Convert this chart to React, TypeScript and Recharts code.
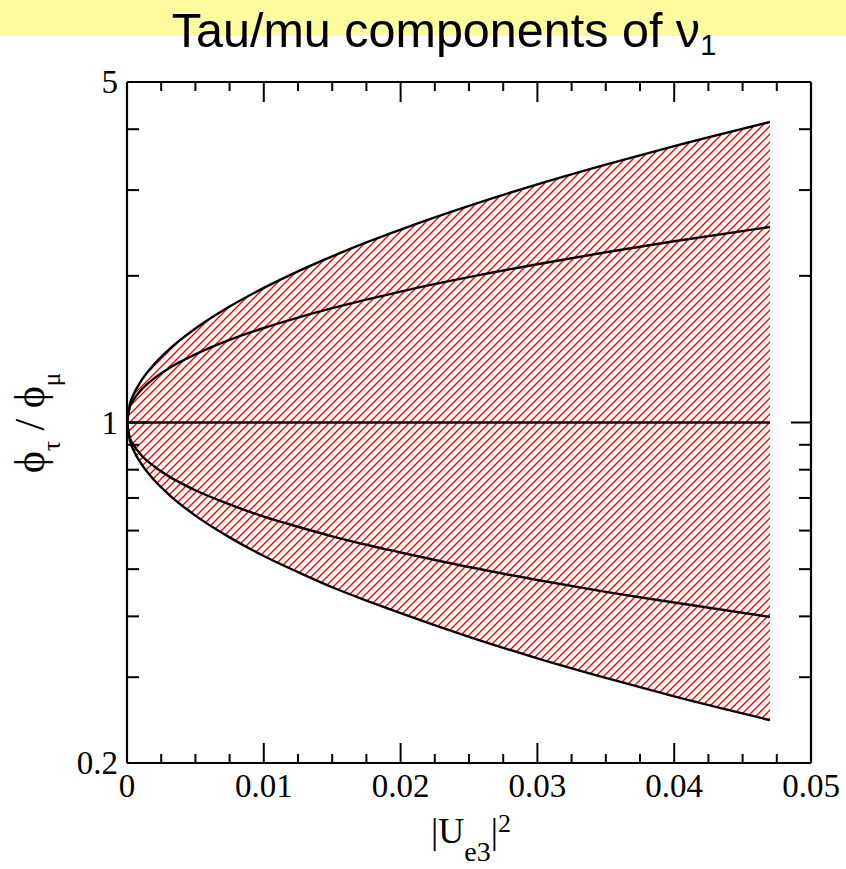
import { ComposedChart, Area, Line, XAxis, YAxis } from 'recharts';

// |Ue3|^2 sample points
const ue3 = [0, 0.0002, 0.0005, 0.001, 0.002, 0.003, 0.005, 0.0075, 0.01, 0.0125, 0.015, 0.0175, 0.02, 0.025, 0.03, 0.035, 0.04, 0.047];

// phi_tau / phi_mu
const outerUpper = [1, 1.087, 1.144, 1.213, 1.318, 1.406, 1.559, 1.73, 1.889, 2.043, 2.193, 2.342, 2.489, 2.784, 3.082, 3.383, 3.694, 4.14];
const innerUpper = [1, 1.074, 1.115, 1.163, 1.233, 1.289, 1.38, 1.477, 1.563, 1.642, 1.717, 1.787, 1.857, 1.988, 2.113, 2.236, 2.356, 2.52];
const central = [1, 1, 1, 1, 1, 1, 1, 1, 1, 1, 1, 1, 1, 1, 1, 1, 1, 1];
const innerLower = [1, 0.932, 0.897, 0.86, 0.812, 0.777, 0.726, 0.679, 0.641, 0.611, 0.584, 0.561, 0.541, 0.505, 0.475, 0.449, 0.427, 0.399];
const outerLower = [1, 0.921, 0.875, 0.826, 0.761, 0.714, 0.644, 0.581, 0.532, 0.493, 0.459, 0.431, 0.406, 0.363, 0.328, 0.299, 0.274, 0.245];

const xMajor = [0, 0.01, 0.02, 0.03, 0.04, 0.05];
const xMinor = [0.0025, 0.005, 0.0075, 0.0125, 0.015, 0.0175, 0.0225, 0.025, 0.0275, 0.0325, 0.035, 0.0375, 0.0425, 0.045, 0.0475];
const yMajor = [0.2, 1, 5];
const yMinor = [0.3, 0.4, 0.5, 0.6, 0.7, 0.8, 0.9, 2, 3, 4];

const xTicks = [...xMajor, ...xMinor].sort((a, b) => a - b);
const yTicks = [...yMajor, ...yMinor].sort((a, b) => a - b);

const data = ue3.map((u, i) => ({
  u,
  band: [outerLower[i], outerUpper[i]],
  outerUpper: outerUpper[i],
  innerUpper: innerUpper[i],
  central: central[i],
  innerLower: innerLower[i],
  outerLower: outerLower[i],
}));

const serif = '"Liberation Serif", "Times New Roman", serif';
const axisStroke = { stroke: '#000', strokeWidth: 2.2 };

// tick marks point into the plot; only majors get numbers
function Tick(props: any) {
  const { x, y, payload, side } = props;
  const v = payload.value;
  const horiz = side === 'bottom' || side === 'top';
  const major = horiz ? xMajor.includes(v) : yMajor.includes(v);
  const len = major ? 20 : horiz ? 9 : 12;
  let line;
  if (side === 'bottom') line = <line x1={x} x2={x} y1={y} y2={y - len} stroke="#000" strokeWidth={2} />;
  else if (side === 'top') line = <line x1={x} x2={x} y1={y} y2={y + len} stroke="#000" strokeWidth={2} />;
  else if (side === 'left') line = <line x1={x} x2={x + len} y1={y} y2={y} stroke="#000" strokeWidth={2} />;
  else line = <line x1={x} x2={x - len} y1={y} y2={y} stroke="#000" strokeWidth={2} />;
  let label = null;
  if (major && side === 'bottom') {
    label = <text x={x} y={y + 34} textAnchor="middle" fontFamily={serif} fontSize={33} fill="#000">{String(v)}</text>;
  } else if (major && side === 'left') {
    label = <text x={x - 9} y={y + 11} textAnchor="end" fontFamily={serif} fontSize={33} fill="#000">{String(v)}</text>;
  }
  return <g>{line}{label}</g>;
}

export default function App() {
  return (
    <div style={{ position: 'relative', width: 846, height: 869, background: '#fff' }}>
      <style>{'body{margin:0}'}</style>
      <div style={{ position: 'absolute', left: 0, top: 0, width: 846, height: 36, background: '#fdfaa0' }} />
      <ComposedChart
        width={846}
        height={869}
        data={data}
        margin={{ top: 81, right: 34, bottom: 105, left: 126 }}
        style={{ position: 'absolute', left: 0, top: 0 }}
      >
        <defs>
          <pattern id="redHatch" patternUnits="userSpaceOnUse" width="8" height="8">
            <line x1="0" y1="8" x2="8" y2="0" stroke="rgb(255,0,0)" strokeWidth="1.3" />
            <line x1="-2" y1="2" x2="2" y2="-2" stroke="rgb(255,0,0)" strokeWidth="1.3" />
            <line x1="6" y1="10" x2="10" y2="6" stroke="rgb(255,0,0)" strokeWidth="1.3" />
          </pattern>
        </defs>
        <XAxis xAxisId="x" dataKey="u" type="number" domain={[0, 0.05]} ticks={xTicks} interval={0}
          height={1} tickSize={0} tickMargin={0} axisLine={axisStroke} tickLine={false}
          tick={(p: any) => <Tick {...p} side="bottom" />} allowDataOverflow />
        <XAxis xAxisId="xt" orientation="top" dataKey="u" type="number" domain={[0, 0.05]} ticks={xTicks} interval={0}
          height={1} tickSize={0} tickMargin={0} axisLine={axisStroke} tickLine={false}
          tick={(p: any) => <Tick {...p} side="top" />} allowDataOverflow />
        <YAxis yAxisId="y" type="number" scale="log" domain={[0.2, 5]} ticks={yTicks} interval={0}
          width={1} tickSize={0} tickMargin={0} axisLine={axisStroke} tickLine={false}
          tick={(p: any) => <Tick {...p} side="left" />} allowDataOverflow />
        <YAxis yAxisId="yr" orientation="right" type="number" scale="log" domain={[0.2, 5]} ticks={yTicks} interval={0}
          width={1} tickSize={0} tickMargin={0} axisLine={axisStroke} tickLine={false}
          tick={(p: any) => <Tick {...p} side="right" />} allowDataOverflow />
        <Area xAxisId="x" yAxisId="y" dataKey="band" type="monotone" fill="url(#redHatch)" fillOpacity={1}
          stroke="none" isAnimationActive={false} />
        {['outerUpper', 'innerUpper', 'central', 'innerLower', 'outerLower'].map((k) => (
          <Line key={k} xAxisId="x" yAxisId="y" dataKey={k} type="monotone" stroke="#000" strokeWidth={2.4}
            dot={false} activeDot={false} isAnimationActive={false} />
        ))}
      </ComposedChart>
      <svg width={846} height={869} style={{ position: 'absolute', left: 0, top: 0, pointerEvents: 'none' }}>
        <text x={444} y={47} textAnchor="middle" fontFamily='"Liberation Sans", Arial, sans-serif' fontSize={48.5} fill="#000">
          Tau/mu components of ν<tspan fontSize={29} dy={8} fill="#000">1</tspan>
        </text>
        <text transform="translate(44,423) rotate(-90)" textAnchor="middle" fontFamily={serif} fontSize={42} fill="#000">
          ϕ<tspan fontSize={25} dy={16}>τ</tspan><tspan dy={-16}> / ϕ</tspan><tspan fontSize={25} dy={16}>μ</tspan>
        </text>
        <text x={471} y={843} textAnchor="middle" fontFamily={serif} fontSize={36} fill="#000">
          |U<tspan fontSize={28} dy={18}>e3</tspan><tspan dy={-18}>|</tspan><tspan fontSize={26} dy={-11}>2</tspan>
        </text>
      </svg>
    </div>
  );
}
